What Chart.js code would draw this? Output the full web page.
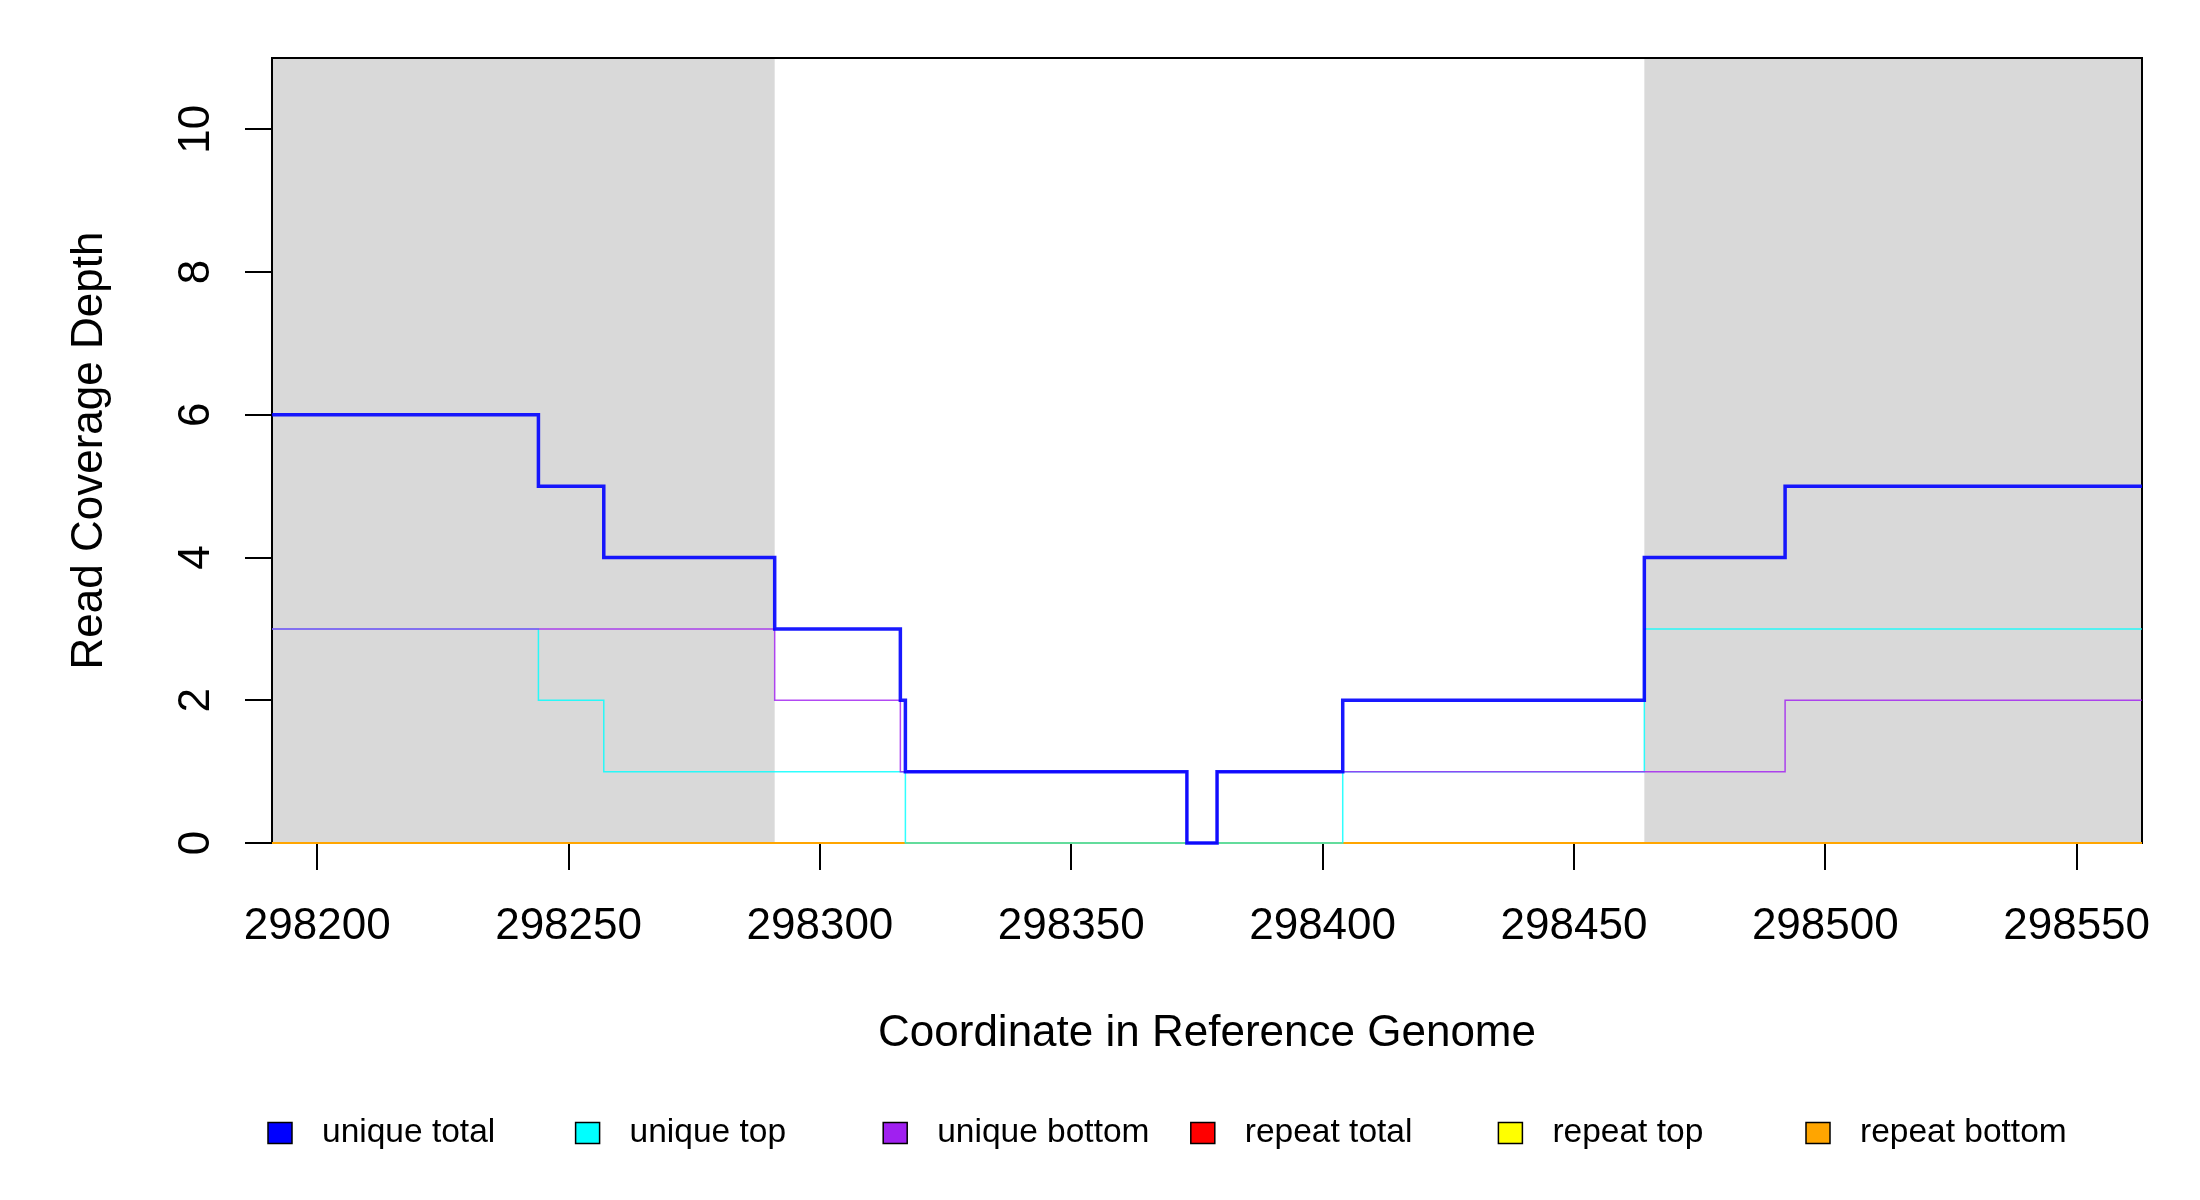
<!DOCTYPE html>
<html>
<head>
<meta charset="utf-8">
<script src="https://cdn.jsdelivr.net/npm/chart.js@4/dist/chart.umd.min.js"></script>
<style>
  html, body { margin: 0; padding: 0; background: #fff; }
  canvas { display: block; }
</style>
</head>
<body>
<canvas id="coverage" width="2200" height="1200" style="width:2200px;height:1200px"></canvas>
<script>
const xMin = 298191;
const xMax = 298563;
const yMax = 11;
const xTicks = [298200, 298250, 298300, 298350, 298400, 298450, 298500, 298550];
const yTicks = [0, 2, 4, 6, 8, 10];

// grey bands
const shadeStarts = [298191, 298464];
const shadeEnds = [298291, 298563];

// where each step starts, and the depth held from there on
const uniqueTotalX = [298191, 298244, 298257, 298291, 298316, 298317, 298373, 298379, 298404, 298464, 298492, 298563];
const uniqueTotalY = [6, 5, 4, 3, 2, 1, 0, 1, 2, 4, 5, 5];
const uniqueTopX = [298191, 298244, 298257, 298317, 298404, 298464, 298563];
const uniqueTopY = [3, 2, 1, 0, 1, 3, 3];
const uniqueBottomX = [298191, 298291, 298316, 298373, 298379, 298492, 298563];
const uniqueBottomY = [3, 2, 1, 0, 1, 2, 2];
const repeatX = [298191, 298563];
const repeatTotalY = [0, 0];
const repeatTopY = [0, 0];
const repeatBottomY = [0, 0];

const seriesLabels = ['unique total', 'unique top', 'unique bottom', 'repeat total', 'repeat top', 'repeat bottom'];
const seriesColors = ['#0000ff', '#00ffff', '#a020f0', '#ff0000', '#ffff00', '#ffa500'];

const FONT = '"Liberation Sans", Arial, sans-serif';
Chart.defaults.font.family = FONT;
Chart.defaults.color = '#000';

function toPoints(xs, ys) {
  return xs.map((x, i) => ({ x: x, y: ys[i] }));
}

function stepSet(idx, xs, ys, width, alpha, order) {
  return {
    label: seriesLabels[idx],
    data: toPoints(xs, ys),
    borderColor: seriesColors[idx] + alpha,
    backgroundColor: seriesColors[idx],
    borderWidth: width,
    stepped: true,
    pointRadius: 0,
    fill: false,
    clip: 4,
    order: order
  };
}

// grey bands and the plot box go under the lines
const underlay = {
  id: 'underlay',
  beforeDatasetsDraw(chart) {
    const { ctx, chartArea, scales } = chart;
    ctx.save();
    ctx.fillStyle = '#d9d9d9';
    shadeStarts.forEach((s, i) => {
      const x0 = scales.x.getPixelForValue(s);
      const x1 = scales.x.getPixelForValue(shadeEnds[i]);
      ctx.fillRect(x0, chartArea.top, x1 - x0, chartArea.bottom - chartArea.top);
    });
    ctx.strokeStyle = '#000';
    ctx.lineWidth = 2;
    ctx.strokeRect(chartArea.left, chartArea.top, chartArea.right - chartArea.left, chartArea.bottom - chartArea.top);
    ctx.restore();
  }
};

const extras = {
  id: 'extras',
  afterDraw(chart) {
    const { ctx } = chart;
    ctx.save();

    // y tick labels, turned sideways
    const y = chart.scales.y;
    ctx.fillStyle = '#000';
    ctx.font = '44px ' + FONT;
    ctx.textAlign = 'center';
    ctx.textBaseline = 'alphabetic';
    y.ticks.forEach(t => {
      const py = y.getPixelForValue(t.value);
      ctx.save();
      ctx.translate(209, py);
      ctx.rotate(-Math.PI / 2);
      ctx.fillText(String(t.value), 0, 0);
      ctx.restore();
    });

    // legend row
    ctx.font = '33.5px ' + FONT;
    ctx.textAlign = 'left';
    ctx.textBaseline = 'middle';
    ctx.lineWidth = 1.5;
    ctx.strokeStyle = '#000';
    chart.data.datasets.forEach((ds, i) => {
      const cx = 280 + i * 307.6;
      const cy = 1133;
      ctx.fillStyle = ds.backgroundColor;
      ctx.fillRect(cx - 12, cy - 10.5, 24, 21);
      ctx.strokeRect(cx - 12, cy - 10.5, 24, 21);
      ctx.fillStyle = '#000';
      ctx.fillText(ds.label, cx + 42, cy);
    });
    ctx.restore();
  }
};

new Chart(document.getElementById('coverage').getContext('2d'), {
  type: 'line',
  data: {
    datasets: [
      stepSet(0, uniqueTotalX, uniqueTotalY, 3.5, 'e6', 0),
      stepSet(1, uniqueTopX, uniqueTopY, 1.5, 'd0', 2),
      stepSet(2, uniqueBottomX, uniqueBottomY, 1.5, 'd0', 1),
      stepSet(3, repeatX, repeatTotalY, 2, 'ff', 5),
      stepSet(4, repeatX, repeatTopY, 2, 'ff', 4),
      stepSet(5, repeatX, repeatBottomY, 2, 'ff', 3)
    ]
  },
  options: {
    responsive: false,
    animation: false,
    devicePixelRatio: 1,
    layout: { padding: { top: 58, right: 58, left: 0, bottom: 0 } },
    plugins: {
      legend: { display: false },
      tooltip: { enabled: false }
    },
    scales: {
      x: {
        type: 'linear',
        min: xMin,
        max: xMax,
        afterBuildTicks: s => { s.ticks = xTicks.map(v => ({ value: v })); },
        afterFit: s => { s.height = 357; },
        ticks: {
          font: { size: 44 },
          color: '#000',
          padding: 30,
          maxRotation: 0,
          autoSkip: false,
          callback: v => String(v)
        },
        grid: { drawOnChartArea: false, drawTicks: true, tickLength: 27, color: '#000', lineWidth: 2 },
        border: { display: false },
        title: {
          display: true,
          text: 'Coordinate in Reference Genome',
          font: { size: 44 },
          color: '#000',
          padding: { top: 0, bottom: 140 }
        }
      },
      y: {
        type: 'linear',
        min: 0,
        max: yMax,
        afterBuildTicks: s => { s.ticks = yTicks.map(v => ({ value: v })); },
        afterFit: s => { s.width = 272; },
        ticks: { display: false },
        grid: { drawOnChartArea: false, drawTicks: true, tickLength: 27, color: '#000', lineWidth: 2 },
        border: { display: false },
        title: {
          display: true,
          text: 'Read Coverage Depth',
          font: { size: 44 },
          color: '#000',
          padding: { top: 63, bottom: 0 }
        }
      }
    }
  },
  plugins: [underlay, extras]
});
</script>
</body>
</html>
